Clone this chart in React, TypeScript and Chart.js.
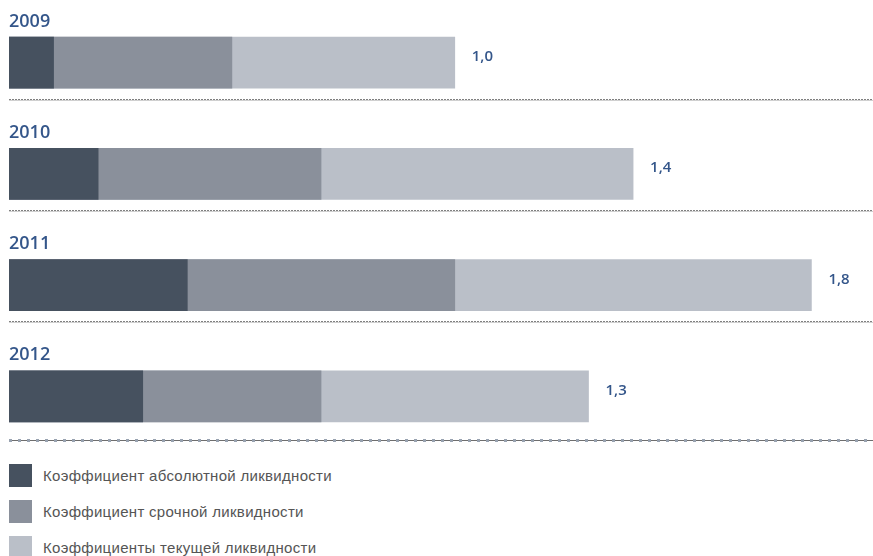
import React, { useEffect, useRef } from "react";
import { Chart, registerables } from "chart.js";

Chart.register(...registerables);

const years = ["2009", "2010", "2011", "2012"];
const absoluteLiquidity = [0.1, 0.2, 0.4, 0.3];
const quickLiquidity = [0.5, 0.7, 1.0, 0.7];
const currentLiquidity = [1.0, 1.4, 1.8, 1.3];
const seriesNames = [
  "Коэффициент абсолютной ликвидности",
  "Коэффициент срочной ликвидности",
  "Коэффициенты текущей ликвидности",
];
const colors = ["#46515f", "#8a909b", "#babfc8"];
const textBlue = "#34568a";

const fmt = (v: number) => v.toFixed(1).replace(".", ",");

const overlayPlugin = {
  id: "overlay",
  afterDatasetsDraw(chart: any) {
    const ctx = chart.ctx;
    const yScale = chart.scales.y;
    const meta = chart.getDatasetMeta(2);
    const w = chart.width;
    ctx.save();
    years.forEach((yr, i) => {
      const c = yScale.getPixelForValue(i);
      const bar = meta.data[i];
      const half = 25.5;
      ctx.fillStyle = textBlue;
      ctx.font = "600 18px 'Open Sans'";
      ctx.textAlign = "left";
      ctx.textBaseline = "alphabetic";
      ctx.fillText(yr, 9, c - half - 10.5);
      ctx.font = "600 15px 'Open Sans'";
      ctx.fillText(fmt(currentLiquidity[i]), bar.x + 17, c - 1.5);
      if (i < years.length - 1) {
        const y = Math.round(c + 36) + 0.5;
        ctx.strokeStyle = "#808080";
        ctx.lineWidth = 1;
        ctx.setLineDash([2, 1]);
        ctx.beginPath();
        ctx.moveTo(9, y);
        ctx.lineTo(w, y);
        ctx.stroke();
        ctx.strokeStyle = "rgba(120,120,120,0.35)";
        ctx.setLineDash([]);
        ctx.beginPath();
        ctx.moveTo(9, y + 1);
        ctx.lineTo(w, y + 1);
        ctx.stroke();
      } else {
        const y = Math.round(c + 44) + 0.5;
        ctx.setLineDash([]);
        ctx.strokeStyle = "#6e6e6e";
        ctx.lineWidth = 1;
        ctx.beginPath();
        ctx.moveTo(9, y);
        ctx.lineTo(w, y);
        ctx.stroke();
        ctx.strokeStyle = "#98a2b0";
        ctx.lineWidth = 3;
        ctx.setLineDash([3, 6]);
        ctx.beginPath();
        ctx.moveTo(9, y);
        ctx.lineTo(w, y);
        ctx.stroke();
      }
    });
    ctx.restore();
  },
};

export default function App() {
  const ref = useRef<HTMLCanvasElement | null>(null);

  useEffect(() => {
    document.body.style.margin = "0";
    if (!ref.current) return;
    const data = [absoluteLiquidity, quickLiquidity, currentLiquidity];
    const chart = new Chart(ref.current, {
      type: "bar",
      data: {
        labels: years,
        datasets: data.map((d, k) => ({
          label: seriesNames[k],
          data: d,
          backgroundColor: colors[k],
          borderWidth: 0,
          grouped: false,
          barThickness: 51,
        })),
      },
      options: {
        indexAxis: "y",
        animation: false,
        responsive: false,
        maintainAspectRatio: false,
        layout: { padding: { left: 9, right: 17, top: 7, bottom: 0 } },
        scales: {
          x: { display: false, min: 0, max: 1.9 },
          y: { display: false },
        },
        plugins: {
          legend: { display: false },
          tooltip: { enabled: false },
        },
      },
      plugins: [overlayPlugin],
    } as any);
    return () => chart.destroy();
  }, []);

  return (
    <div style={{ width: 873, height: 556, overflow: "hidden", background: "#fff" }}>
      <canvas ref={ref} width={873} height={452} style={{ display: "block" }} />
      <div style={{ marginTop: 12 }}>
        {seriesNames.map((n, k) => (
          <div
            key={n}
            style={{ display: "flex", alignItems: "center", height: 23, marginBottom: 13, paddingLeft: 9 }}
          >
            <div style={{ width: 23, height: 23, background: colors[k], flex: "none" }} />
            <span
              style={{
                marginLeft: 11,
                fontFamily: "'Liberation Sans', Arial, sans-serif",
                fontSize: 15,
                color: "#555",
                letterSpacing: 0.3,
              }}
            >
              {n}
            </span>
          </div>
        ))}
      </div>
    </div>
  );
}
